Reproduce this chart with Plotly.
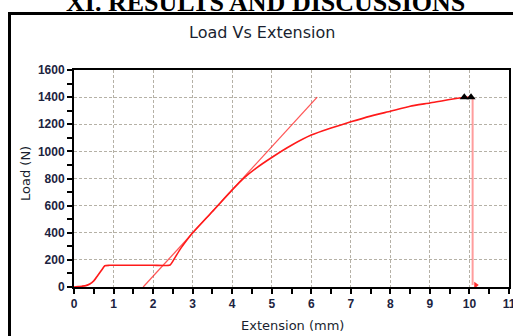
import plotly.graph_objects as go

# ---- data ----
extension_mm = [0, 0.1, 0.2, 0.3, 0.4, 0.5, 0.6, 0.7, 0.78, 0.9, 1.5, 2.0, 2.43,
                2.55, 2.7, 2.85, 3.0, 3.5, 4.0, 4.3, 4.6, 5.0, 5.5, 6.0, 6.5,
                7.0, 7.5, 8.0, 8.5, 9.0, 9.5, 9.87, 10.04, 10.08]
load_n = [0, 3, 6, 10, 22, 45, 85, 125, 157, 160, 160, 160, 162,
          215, 285, 345, 400, 557, 716, 805, 875, 955, 1045, 1120, 1172,
          1218, 1260, 1296, 1333, 1357, 1383, 1397, 1400, 1400]

tangent_x = [1.75, 6.15]
tangent_y = [0, 1400]

drop_x = [10.08, 10.08]
drop_y = [1400, 15]

peak_x = [9.87, 10.04]
peak_y = [1400, 1400]

break_x = [10.16]
break_y = [14]

x_ticks = list(range(0, 12))
y_ticks = list(range(0, 1601, 200))

fig = go.Figure()
fig.add_trace(go.Scatter(x=tangent_x, y=tangent_y, mode="lines",
                         line=dict(color="rgba(255,30,30,0.75)", width=1.3),
                         showlegend=False, hoverinfo="skip"))
fig.add_trace(go.Scatter(x=extension_mm, y=load_n, mode="lines",
                         line=dict(color="#ff1a1a", width=1.6, shape="spline", smoothing=0.5),
                         showlegend=False))
fig.add_trace(go.Scatter(x=drop_x, y=drop_y, mode="lines",
                         line=dict(color="rgba(255,60,60,0.5)", width=2),
                         showlegend=False))
fig.add_trace(go.Scatter(x=break_x, y=break_y, mode="markers",
                         marker=dict(symbol="triangle-right", size=6, color="#ff3030"),
                         showlegend=False))
fig.add_trace(go.Scatter(x=peak_x, y=peak_y, mode="markers",
                         marker=dict(symbol="triangle-up", size=8, color="black"),
                         showlegend=False))

tick_font = dict(family="Liberation Sans", size=12, color="#1b2340", weight="bold")
grid_col = "#b5b1a6"

fig.update_xaxes(range=[0, 11], tickvals=x_ticks, ticktext=[str(v) for v in x_ticks],
                 showline=True, linecolor="black", linewidth=2, mirror=True,
                 ticks="outside", ticklen=5, tickwidth=1.5, tickcolor="black",
                 minor=dict(dtick=0.5, tick0=0, ticks="outside", ticklen=5,
                            tickwidth=1.5, tickcolor="black", showgrid=False),
                 showgrid=True, gridcolor=grid_col, griddash="3px,2px", gridwidth=1,
                 zeroline=False, tickfont=tick_font, ticklabeloverflow="allow",
                 automargin=False)
fig.update_yaxes(range=[0, 1600], tickvals=y_ticks, ticktext=[str(v) for v in y_ticks],
                 showline=True, linecolor="black", linewidth=2, mirror=True,
                 ticks="outside", ticklen=5, tickwidth=1.5, tickcolor="black",
                 minor=dict(dtick=100, tick0=0, ticks="outside", ticklen=5,
                            tickwidth=1.5, tickcolor="black", showgrid=False),
                 showgrid=True, gridcolor=grid_col, griddash="3px,2px", gridwidth=1,
                 zeroline=False, tickfont=tick_font, automargin=False)

fig.update_layout(
    width=513, height=336,
    margin=dict(l=74, r=4, t=70, b=49),
    paper_bgcolor="white", plot_bgcolor="white",
    showlegend=False,
    annotations=[
        dict(text="<b>XI. RESULTS AND DISCUSSIONS</b>", xref="paper", yref="paper",
             x=(265 - 74) / 435, y=(287 - 2) / 217, xanchor="center", yanchor="middle",
             showarrow=False, font=dict(family="Liberation Serif", size=26, color="black")),
        dict(text="Load Vs Extension", xref="paper", yref="paper",
             x=(262 - 74) / 435, y=(287 - 33) / 217, xanchor="center", yanchor="middle",
             showarrow=False, font=dict(family="DejaVu Sans", size=16, color="#1a1f30")),
        dict(text="Extension (mm)", xref="paper", yref="paper",
             x=(292 - 74) / 435, y=(287 - 325) / 217, xanchor="center", yanchor="middle",
             showarrow=False, font=dict(family="DejaVu Sans", size=13, color="#1a1f30")),
        dict(text="Load (N)", xref="paper", yref="paper", textangle=-90,
             x=(25 - 74) / 435, y=(287 - 174) / 217, xanchor="center", yanchor="middle",
             showarrow=False, font=dict(family="DejaVu Sans", size=13, color="#1a1f30")),
    ],
    shapes=[
        dict(type="rect", xref="paper", yref="paper", layer="above",
             x0=(9.5 - 74) / 435, x1=(530 - 74) / 435,
             y0=(287 - 350) / 217, y1=(287 - 13.5) / 217,
             line=dict(color="black", width=3), fillcolor="rgba(0,0,0,0)"),
    ],
)

fig.write_html("out.html", config={"displayModeBar": False},
               post_script="document.body.style.margin='0';")
